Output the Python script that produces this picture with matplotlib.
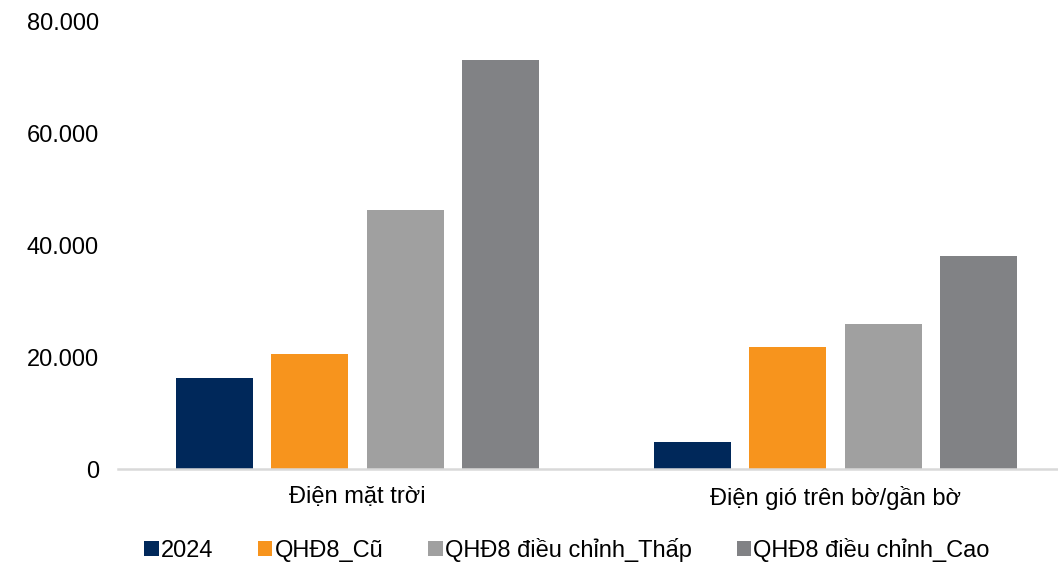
import matplotlib
matplotlib.use("Agg")
import matplotlib.pyplot as plt
import numpy as np
from matplotlib.ticker import FuncFormatter

plt.rcParams['font.family'] = ['Liberation Sans', 'DejaVu Sans']

categories = ["Điện mặt trời", "Điện gió trên bờ/gần bờ"]
series_names = ["2024", "QHĐ8_Cũ", "QHĐ8 điều chỉnh_Thấp", "QHĐ8 điều chỉnh_Cao"]
v_2024 = [16300, 4800]
v_cu = [20500, 21800]
v_thap = [46400, 26000]
v_cao = [73200, 38100]
series_values = [v_2024, v_cu, v_thap, v_cao]
colors = ["#00285A", "#F7941D", "#A0A0A0", "#818285"]
yticks = [0, 20000, 40000, 60000, 80000]

W, H = 1058, 562
fig = plt.figure(figsize=(W / 100, H / 100), dpi=100)
left = 118.5 / W
bottom = (H - 469) / H
top = (H - 22) / H
ax = fig.add_axes([left, bottom, 1 - left, top - bottom])

x = np.arange(len(categories))
step = 0.2
width = 0.161
for i, (name, vals, c) in enumerate(zip(series_names, series_values, colors)):
    ax.bar(x + (i - 1.5) * step, vals, width=width, color=c, label=name, zorder=2)

ax.set_xlim(-0.5, 1.5 - 16.5 / 478)
ax.set_ylim(0, 80000)
ax.set_yticks(yticks)
ax.yaxis.set_major_formatter(FuncFormatter(lambda v, p: f"{int(v):,}".replace(",", ".")))
ax.set_xticks(x)
ax.set_xticklabels(categories)
for s in ["top", "right", "left"]:
    ax.spines[s].set_visible(False)
ax.spines["bottom"].set_color("#D9D9D9")
ax.spines["bottom"].set_linewidth(1.8)
ax.tick_params(axis="both", length=0, labelsize=17, colors="#000000")
ax.tick_params(axis="y", pad=14)
ax.tick_params(axis="x", pad=12)

fig.legend(loc="center", bbox_to_anchor=(567 / W, (H - 550) / H), ncol=4, frameon=False,
           fontsize=17, handlelength=0.6, handleheight=0.6, handletextpad=0.1,
           columnspacing=1.9, borderaxespad=0)

fig.savefig("out.png", dpi=100)
